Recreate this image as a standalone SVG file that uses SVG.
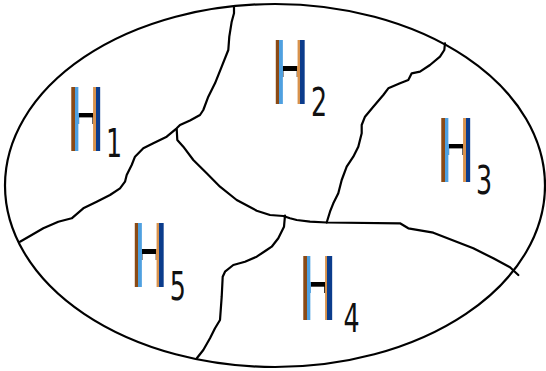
<svg xmlns="http://www.w3.org/2000/svg" width="546" height="371" viewBox="0 0 546 371">
<style>
.h{font-family:"Liberation Sans",Arial,sans-serif;font-weight:bold;font-size:93.6px;fill:url(#hg);mask:url(#hm)}
.s{font-family:"DejaVu Sans",sans-serif;font-size:39px;fill:#111;text-anchor:middle}
.ln{fill:none;stroke:#000;stroke-width:2.2;stroke-linejoin:round;stroke-linecap:round}
</style>
<defs>
<linearGradient id="hg" gradientUnits="userSpaceOnUse" x1="0" y1="0" x2="70" y2="0">
<stop offset="0" stop-color="#8B4A14"/><stop offset="0.19" stop-color="#8B4A14"/>
<stop offset="0.19" stop-color="#4FA0E0"/><stop offset="0.291" stop-color="#4FA0E0"/>
<stop offset="0.291" stop-color="#000"/><stop offset="0.67" stop-color="#000"/>
<stop offset="0.67" stop-color="#D8924C"/><stop offset="0.746" stop-color="#D8924C"/>
<stop offset="0.746" stop-color="#0B3C8C"/><stop offset="1" stop-color="#0B3C8C"/>
</linearGradient>
<mask id="hm" maskUnits="userSpaceOnUse" x="-20" y="-100" width="120" height="130">
<rect x="-20" y="-100" width="120" height="130" fill="#fff"/>
<rect x="21" y="-80" width="25.3" height="41.4" fill="#000"/>
<rect x="21" y="-33.3" width="25.3" height="40" fill="#000"/>
</mask>
</defs>
<g id="boundary">
<ellipse cx="275" cy="185.5" rx="270" ry="181.5" class="ln"/>
</g>
<g id="connectors">
<polyline class="ln" points="234,6 234,13.3 231.7,21.7 229.3,36.7 228.3,50 221.7,66.7 215,83.3 208.3,96.7 203.3,110 200,115 190,120.5 180,125 176.7,128.3 166.7,136.7 153.3,143.3 143.3,148.3 135,156.7 131.7,165 126.7,175 125,181.7 120,188.3 110,195 96.7,201.7 83.3,208.3 71.7,218.3 58.3,221.7 43.3,228.3 31.7,235 20,241.7"/>
<polyline class="ln" points="176.7,129 177.3,140 183.3,146.7 193.3,160 206.7,173.3 220,186.7 236.7,200 256.7,210.7 270,215 283.3,216 290,218.3 296.7,220 310,221.7 326.7,222.5 400,223.3 408.3,228.3 433.3,232.7 473.3,248.3 493.3,258.3 510,267.3 518.3,275"/>
<polyline class="ln" points="445,43.3 444.3,50 440,56.7 430,65 420,71.7 411.7,73.3 408.3,80 400,83.3 388.3,88.3 383.3,95 373.3,106.7 365,116.7 361.7,125 361.7,133.3 358.3,146.7 353.3,156.7 346.7,166.7 341.7,180 338.3,193.3 333.3,203.3 330,211.7 326.7,222.5"/>
<polyline class="ln" points="285,215.5 284,226.7 278.3,238.3 271.7,246.7 266.7,250 256.7,256.7 245,261.7 233.3,265 225,271.7 222.7,276.7 221.7,296.7 220,320 215,328.3 210,338.3 203.3,350 197,358"/>
</g>
<g id="H1">
<text class="h" transform="translate(68.1,150.7) scale(0.525,1)">H</text>
<text class="s" transform="translate(114,157.3) scale(0.65,1)">1</text>
</g>
<g id="H2">
<text class="h" transform="translate(272.4,104.3) scale(0.525,1)">H</text>
<text class="s" transform="translate(319,116) scale(0.65,1)">2</text>
</g>
<g id="H3">
<text class="h" transform="translate(438.1,181.7) scale(0.525,1)">H</text>
<text class="s" transform="translate(484,194.3) scale(0.65,1)">3</text>
</g>
<g id="H4">
<text class="h" transform="translate(299.9,320) scale(0.525,1)">H</text>
<text class="s" transform="translate(351.5,332) scale(0.65,1)">4</text>
</g>
<g id="H5">
<text class="h" transform="translate(131.4,287.3) scale(0.525,1)">H</text>
<text class="s" transform="translate(177.7,300) scale(0.65,1)">5</text>
</g>
</svg>
